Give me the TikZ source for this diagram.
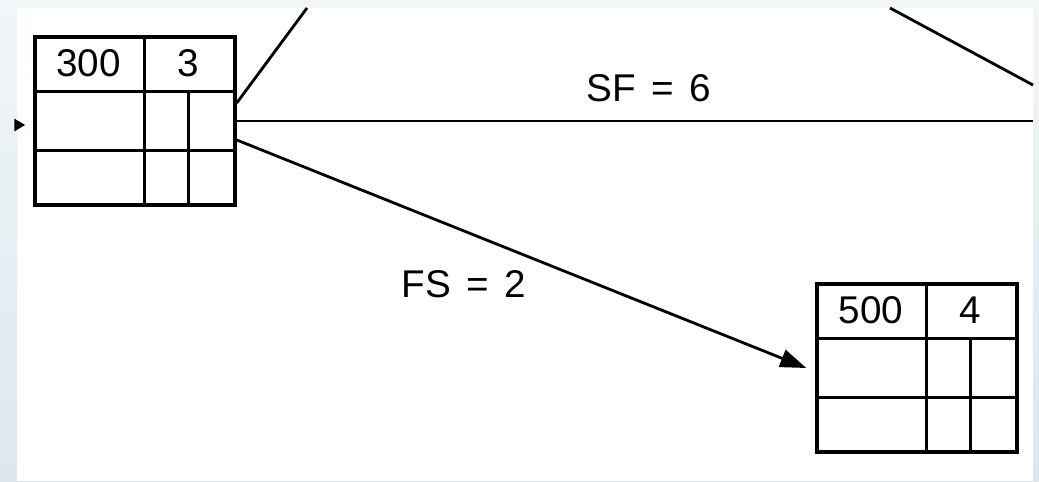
\documentclass[tikz,border=0pt]{standalone}
\usepackage{fontspec}
\setmainfont{Liberation Sans}
\usetikzlibrary{arrows.meta,positioning}
\definecolor{edgelt}{HTML}{F1F6F8}
\definecolor{edgedk}{HTML}{DCE8EE}

\begin{document}
\begin{tikzpicture}[x=0.02cm,y=-0.02cm,
    box/.style={draw,line width=2pt,minimum width=4cm,minimum height=3.36cm,inner sep=0pt},
    cell/.style={line width=1.6pt},
    link/.style={line width=1.6pt},
    lbl/.style={font=\fontsize{22}{26}\selectfont,inner sep=0pt},
    >={Triangle[length=5.2mm,width=3.6mm]}]
    % page edge
    \fill[top color=edgelt,bottom color=edgedk] (0,0) rectangle (1039,481);
    \fill[white] (17,8) rectangle (1033,481);
    \useasboundingbox (0,0) rectangle (1039,481);
    % activity boxes
    \node[box] (a300) at (135,121) {};
    \node[box] (a500) at (917,368) {};
    \foreach \bx in {a300,a500}{
      \draw[cell] ([yshift=-1.12cm]\bx.north west) -- ([yshift=-1.12cm]\bx.north east);
      \draw[cell] ([yshift=1.12cm]\bx.south west) -- ([yshift=1.12cm]\bx.south east);
      \draw[cell] ([xshift=2.22cm]\bx.north west) -- ([xshift=2.22cm]\bx.south west);
      \draw[cell] ([xshift=3.1cm,yshift=-1.12cm]\bx.north west) -- ([xshift=3.1cm]\bx.south west);
    }
    \node[lbl] (id300) at ([xshift=1.11cm,yshift=-0.56cm]a300.north west) {300};
    \node[lbl] (du300) at ([xshift=3.11cm,yshift=-0.56cm]a300.north west) {3};
    \node[lbl] (id500) at ([xshift=1.11cm,yshift=-0.56cm]a500.north west) {500};
    \node[lbl] (du500) at ([xshift=3.11cm,yshift=-0.56cm]a500.north west) {4};
    % free ends at the page edge
    \coordinate (inL) at (17,125);
    \coordinate (topA) at (307,8);
    \coordinate (rgtB) at (1033,121);
    \coordinate (topC) at (890,8);
    \coordinate (rgtD) at (1033,85);
    % links
    \draw[link,-{Triangle[length=2.2mm,width=2.4mm]}] (inL) -- ([xshift=-0.16cm,yshift=-0.08cm]a300.west);
    \draw[link] ([yshift=0.36cm]a300.east) -- (topA);
    \draw[link] (a300.east) -- (rgtB);
    \draw[link,->] ([yshift=-0.38cm]a300.east) -- ([xshift=-0.18cm]a500.west);
    \draw[link] (topC) -- (rgtD);
    \node[lbl] (sf) at (649,88) {SF\hspace{0.4em}=\hspace{0.4em}6};
    \node[lbl] (fs) at (464,284) {FS\hspace{0.4em}=\hspace{0.4em}2};
\end{tikzpicture}
\end{document}
